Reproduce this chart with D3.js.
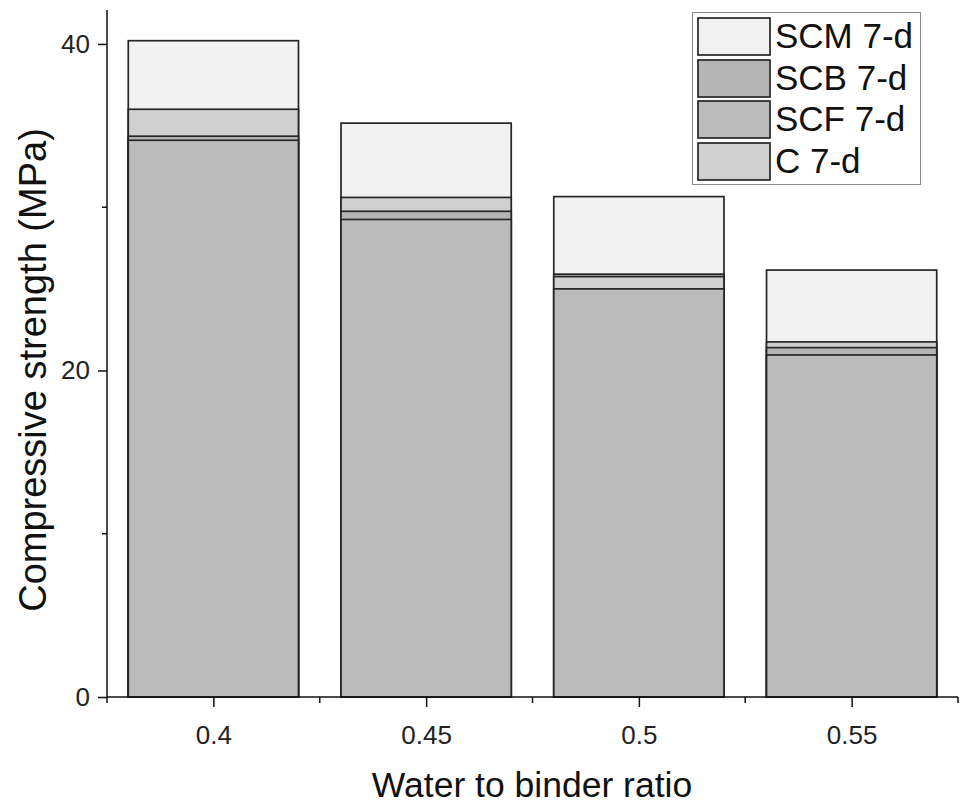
<!DOCTYPE html>
<html>
<head>
<meta charset="utf-8">
<script src="https://cdn.jsdelivr.net/npm/d3@7"></script>
<style>
  html, body { margin: 0; padding: 0; background: #fff; }
  svg { display: block; font-family: "Liberation Sans", Arial, sans-serif; }
</style>
</head>
<body>
<svg id="chart" width="964" height="807"></svg>
<script>
// ---- data ----
const categories = [0.4, 0.45, 0.5, 0.55];
const categoryLabels = ["0.4", "0.45", "0.5", "0.55"];
const seriesNames = ["SCM 7-d", "SCB 7-d", "SCF 7-d", "C 7-d"];
const scmValues = [40.2, 35.15, 30.65, 26.15];
const scbValues = [34.35, 29.75, 25.9, 21.4];
const scfValues = [34.1, 29.25, 25.0, 20.95];
const cValues   = [36.0, 30.6, 25.75, 21.75];
const seriesColors = ["#f2f2f2", "#b5b5b5", "#bbbbbb", "#d0d0d0"];
const yTicks = [0, 20, 40];
const yMinorTicks = [10, 30];
const xMinorTicks = [0.375, 0.425, 0.475, 0.525, 0.575];

const seriesValues = [scmValues, scbValues, scfValues, cValues];

// ---- layout ----
const svg = d3.select("#chart");
const x0 = 107, x1 = 958, yBottom = 697, yTop = 10;
const FONT = "'Liberation Sans', Arial, sans-serif";

const x = d3.scaleLinear().domain([0.375, 0.575]).range([x0, x1]);
const y = d3.scaleLinear().domain([0, 42.08]).range([yBottom, yTop]);
const barWidth = x(0.42) - x(0.38);

// ---- bars (overlapping, larger drawn behind) ----
const barData = [];
categories.forEach((c, i) => {
  const items = seriesNames.map((name, s) => ({cat: c, name, color: seriesColors[s], value: seriesValues[s][i]}));
  items.sort((a, b) => b.value - a.value);
  items.forEach(d => barData.push(d));
});

svg.append("g").selectAll("rect").data(barData).join("rect")
  .attr("x", d => x(d.cat) - barWidth / 2)
  .attr("width", barWidth)
  .attr("y", d => y(d.value))
  .attr("height", d => y(0) - y(d.value))
  .attr("fill", d => d.color)
  .attr("stroke", "#262626")
  .attr("stroke-width", 1.7);

// ---- axes ----
const axisColor = "#111";
const yAxis = svg.append("g").attr("transform", `translate(${x0},0)`)
  .call(d3.axisLeft(y).tickValues(yTicks).tickSize(9).tickPadding(8).tickFormat(d3.format("d")));
yAxis.attr("font-size", null).attr("font-family", null);
yAxis.select(".domain").remove();
yAxis.selectAll("line").attr("stroke", axisColor).attr("stroke-width", 1.5);
yAxis.selectAll("text").style("font-size", "26px").attr("fill", "#222")
  .style("font-family", FONT);
svg.append("g").selectAll("line").data(yMinorTicks).join("line")
  .attr("x1", x0 - 5).attr("x2", x0).attr("y1", d => y(d)).attr("y2", d => y(d))
  .attr("stroke", axisColor).attr("stroke-width", 1.5);
svg.append("line").attr("x1", x0).attr("x2", x0).attr("y1", yTop).attr("y2", yBottom)
  .attr("stroke", axisColor).attr("stroke-width", 1.5);

const xAxis = svg.append("g").attr("transform", `translate(0,${yBottom})`)
  .call(d3.axisBottom(x).tickValues(categories).tickSize(10).tickPadding(19)
    .tickFormat((d, i) => categoryLabels[i]));
xAxis.attr("font-size", null).attr("font-family", null);
xAxis.select(".domain").remove();
xAxis.selectAll("line").attr("stroke", axisColor).attr("stroke-width", 1.5);
xAxis.selectAll("text").style("font-size", "26px").attr("fill", "#222")
  .style("font-family", FONT);
svg.append("g").selectAll("line").data(xMinorTicks).join("line")
  .attr("x1", d => x(d)).attr("x2", d => x(d)).attr("y1", yBottom).attr("y2", yBottom + 6)
  .attr("stroke", axisColor).attr("stroke-width", 1.5);
svg.append("line").attr("x1", x0).attr("x2", x1).attr("y1", yBottom).attr("y2", yBottom)
  .attr("stroke", axisColor).attr("stroke-width", 1.5);

// ---- axis titles ----
svg.append("text").attr("x", 532).attr("y", 797).attr("text-anchor", "middle")
  .style("font-size", "35.5px").style("font-family", FONT).attr("fill", "#111").text("Water to binder ratio");
svg.append("text").attr("transform", "translate(46,370) rotate(-90)").attr("text-anchor", "middle")
  .style("font-size", "38px").style("font-family", FONT).attr("fill", "#111").text("Compressive strength (MPa)");

// ---- legend ----
const lg = svg.append("g");
lg.append("rect").attr("x", 692.5).attr("y", 12.5).attr("width", 228).attr("height", 172)
  .attr("fill", "#fff").attr("stroke", "#8a8a8a").attr("stroke-width", 1);
const rowY = [18, 60, 101, 143];
seriesNames.forEach((name, i) => {
  lg.append("rect").attr("x", 698).attr("y", rowY[i]).attr("width", 72).attr("height", 37)
    .attr("fill", seriesColors[i]).attr("stroke", "#262626").attr("stroke-width", 1.7);
  lg.append("text").attr("x", 775).attr("y", rowY[i] + 30)
    .style("font-size", "35px").style("font-family", FONT)
    .attr("fill", "#111").text(name);
});
</script>
</body>
</html>
